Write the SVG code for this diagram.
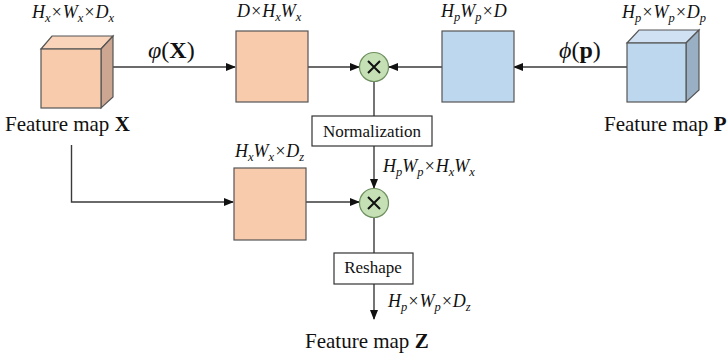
<svg xmlns="http://www.w3.org/2000/svg" width="727" height="356" viewBox="0 0 727 356">
<style>
.ln{fill:none;stroke:#3a3a3a;stroke-width:1.4}
.or{fill:#F8CBAD;stroke:#555;stroke-width:1.2}
.bl{fill:#BDD7EE;stroke:#555;stroke-width:1.2}
.orT{fill:#F9D3BA;stroke:#555;stroke-width:1.2}
.orR{fill:#CDA691;stroke:#555;stroke-width:1.2}
.blT{fill:#CFE1F3;stroke:#555;stroke-width:1.2}
.blR{fill:#98AFC4;stroke:#555;stroke-width:1.2}
.ci{fill:#C5E0B4;stroke:#6E8F60;stroke-width:1.2}
.x{stroke:#111;stroke-width:2;fill:none}
.op{fill:#fff;stroke:#333;stroke-width:1.2}
text{font-family:'Liberation Serif','DejaVu Serif','Times New Roman',serif;fill:#111}
.m{font-style:italic;font-size:18px}
.s{font-size:12.5px}
.t{font-size:21px}
.f{font-size:24px}
.b{font-weight:bold;font-style:normal}
.lab{font-size:17px}
</style>
<defs>
<marker id="ah" markerWidth="10" markerHeight="8" refX="9" refY="4" orient="auto" markerUnits="userSpaceOnUse">
<path d="M0,0 L10,4 L0,8 z" fill="#111"/>
</marker>
</defs>

<g id="connectors">
<line class="ln" x1="112" y1="67" x2="235" y2="67" marker-end="url(#ah)"/>
<line class="ln" x1="308" y1="67" x2="359" y2="67" marker-end="url(#ah)"/>
<line class="ln" x1="442" y1="67" x2="389" y2="67" marker-end="url(#ah)"/>
<line class="ln" x1="627" y1="67" x2="514" y2="67" marker-end="url(#ah)"/>
<line class="ln" x1="374" y1="82" x2="374" y2="116"/>
<line class="ln" x1="374" y1="146" x2="374" y2="188" marker-end="url(#ah)"/>
<polyline class="ln" points="71.5,145 71.5,202 233,202" marker-end="url(#ah)"/>
<line class="ln" x1="306" y1="202" x2="359" y2="202" marker-end="url(#ah)"/>
<line class="ln" x1="374" y1="217" x2="374" y2="253"/>
<line class="ln" x1="374" y1="284" x2="374" y2="319" marker-end="url(#ah)"/>
</g>

<g id="cubeX">
<polygon class="orT" points="41,49 52,36 113,36 101,49"/>
<polygon class="orR" points="101,49 113,36 113,97 101,108"/>
<rect class="or" x="41" y="49" width="60" height="59"/>
<text class="m" x="32" y="18">H<tspan class="s" dy="4">x</tspan><tspan dy="-4">×W</tspan><tspan class="s" dy="4">x</tspan><tspan dy="-4">×D</tspan><tspan class="s" dy="4">x</tspan></text>
<text class="t" x="5" y="131">Feature map <tspan class="b">X</tspan></text>
</g>

<g id="phiX">
<text class="f" x="148" y="58"><tspan font-style="italic">φ</tspan>(<tspan class="b">X</tspan>)</text>
</g>

<g id="boxDHW">
<rect class="or" x="236" y="31" width="72" height="71"/>
<text class="m" x="237" y="17">D×H<tspan class="s" dy="4">x</tspan><tspan dy="-4">W</tspan><tspan class="s" dy="4">x</tspan></text>
</g>

<g id="mul1">
<circle class="ci" cx="374" cy="67" r="14.5"/>
<path class="x" d="M368,61 L380,73 M380,61 L368,73"/>
</g>

<g id="boxHWD">
<rect class="bl" x="442" y="31" width="72" height="71"/>
<text class="m" x="441" y="17">H<tspan class="s" dy="4">p</tspan><tspan dy="-4">W</tspan><tspan class="s" dy="4">p</tspan><tspan dy="-4">×D</tspan></text>
</g>

<g id="phiP">
<text class="f" x="559" y="58"><tspan font-style="italic">ϕ</tspan>(<tspan class="b">p</tspan>)</text>
</g>

<g id="cubeP">
<polygon class="blT" points="627,43 639,30 699,30 686,43"/>
<polygon class="blR" points="686,43 699,30 699,90 686,102"/>
<rect class="bl" x="627" y="43" width="59" height="59"/>
<text class="m" x="622" y="18">H<tspan class="s" dy="4">p</tspan><tspan dy="-4">×W</tspan><tspan class="s" dy="4">p</tspan><tspan dy="-4">×D</tspan><tspan class="s" dy="4">p</tspan></text>
<text class="t" x="604" y="131">Feature map <tspan class="b">P</tspan></text>
</g>

<g id="normalization">
<rect class="op" x="312" y="116" width="120" height="30"/>
<text class="lab" x="372" y="137" text-anchor="middle">Normalization</text>
</g>

<g id="simLabel">
<text class="m" x="383" y="172">H<tspan class="s" dy="4">p</tspan><tspan dy="-4">W</tspan><tspan class="s" dy="4">p</tspan><tspan dy="-4">×H</tspan><tspan class="s" dy="4">x</tspan><tspan dy="-4">W</tspan><tspan class="s" dy="4">x</tspan></text>
</g>

<g id="boxHWDz">
<rect class="or" x="234" y="168" width="72" height="72"/>
<text class="m" x="235" y="157">H<tspan class="s" dy="4">x</tspan><tspan dy="-4">W</tspan><tspan class="s" dy="4">x</tspan><tspan dy="-4">×D</tspan><tspan class="s" dy="4">z</tspan></text>
</g>

<g id="mul2">
<circle class="ci" cx="374" cy="203" r="14.5"/>
<path class="x" d="M368,197 L380,209 M380,197 L368,209"/>
</g>

<g id="reshape">
<rect class="op" x="334" y="253" width="79" height="31"/>
<text class="lab" x="373" y="273" text-anchor="middle">Reshape</text>
</g>

<g id="featZ">
<text class="m" x="388" y="307">H<tspan class="s" dy="4">p</tspan><tspan dy="-4">×W</tspan><tspan class="s" dy="4">p</tspan><tspan dy="-4">×D</tspan><tspan class="s" dy="4">z</tspan></text>
<text class="t" x="305" y="348">Feature map <tspan class="b">Z</tspan></text>
</g>
</svg>
